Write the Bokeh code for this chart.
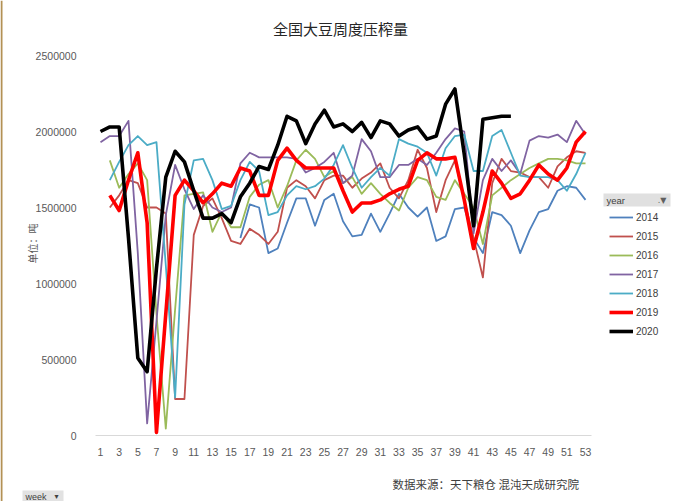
import math
from bokeh.plotting import figure
from bokeh.models import (Range1d, FixedTicker, BasicTickFormatter, Legend, LegendItem,
                          Label, ColumnDataSource, BoxAnnotation)
from bokeh.embed import file_html
from bokeh.resources import INLINE

nan = float("nan")

# ---------------- data (million tonnes) ----------------
weeks = list(range(1, 54))
x_tick_weeks = list(range(1, 54, 2))
y_ticks = [0, 500000, 1000000, 1500000, 2000000, 2500000]
years = ["2014", "2015", "2016", "2017", "2018", "2019", "2020"]

v2014 = [nan] * 15 + [
    1.30, 1.52, 1.50, 1.20, 1.23, 1.40, 1.56, 1.56, 1.38, 1.55,
    1.59, 1.41, 1.31, 1.32, 1.46, 1.34, 1.46, 1.59, 1.50, 1.44,
    1.50, 1.28, 1.31, 1.49, 1.50, 1.30, 1.20, 1.47, 1.45, 1.38,
    1.20, 1.35, 1.47, 1.49, 1.61, 1.64, 1.63, 1.55]
v2015 = [nan,
    1.50, 1.58, 1.68, 1.66, 1.50, 1.50, 1.46, 0.24, 0.24, 1.32,
    1.51, 1.56, 1.43, 1.28, 1.26, 1.36, 1.32, 1.26, 1.34, 1.63,
    1.68, 1.64, 1.56, 1.68, 1.71, 1.71, 1.63, 1.69, 1.73, 1.79,
    1.63, 1.56, 1.68, 1.88, 1.76, 1.47, 1.68, 1.81, 1.55, 1.30,
    1.04, 1.66, 1.82, 1.74, 1.73, 1.70, 1.70, 1.63, 1.77, 1.83,
    1.87, 1.86]
v2016 = [nan,
    1.81, 1.63, 1.72, 1.79, 1.68, 0.80, 0.045, 0.83, 1.58, 1.59,
    1.60, 1.34, 1.47, 1.37, 1.37, 1.57, 1.65, 1.68, 1.50, 1.64,
    1.81, 1.88, 1.82, 1.70, 1.74, 1.66, 1.70, 1.59, 1.66, 1.59,
    1.53, 1.48, 1.63, 1.70, 1.68, 1.57, 1.55, 1.68, 1.59, 1.50,
    1.26, 1.58, 1.63, 1.68, 1.72, 1.76, 1.79, 1.82, 1.82, 1.81,
    1.79, 1.79]
v2017 = [
    1.93, 1.97, 1.97, 2.07, 1.20, 0.08, 0.75, 1.45, 1.78, 1.62,
    1.49, 1.58, 1.50, 1.47, 1.50, 1.79, 1.86, 1.83, 1.83, 1.83,
    1.83, 1.82, 1.73, 1.76, 1.80, 1.86, 1.66, 1.71, 1.95, 1.87,
    1.70, 1.70, 1.78, 1.78, 1.82, 1.78, 1.86, 1.95, 2.02, 2.00,
    1.33, 1.68, 1.82, 1.74, 1.81, 1.72, 1.94, 1.97, 1.96, 1.98,
    1.93, 2.07, 1.98]
v2018 = [nan,
    1.68, 1.80, 1.91, 1.97, 1.91, 1.93, 1.12, 0.25, 1.52, 1.81,
    1.82, 1.68, 1.49, 1.51, 1.68, 1.80, 1.74, 1.45, 1.47, 1.58,
    1.64, 1.62, 1.64, 1.69, 1.78, 1.91, 1.76, 1.63, 1.70, 1.76,
    1.71, 1.95, 1.92, 1.90, 1.86, 1.71, 1.89, 1.97, 1.98, 1.74,
    1.74, 1.97, 2.01, 1.86, 1.71, 1.70, 1.70, 1.70, 1.68, 1.61,
    1.72, 1.86]
v2019 = [nan,
    1.58, 1.48, 1.68, 1.86, 1.40, 0.02, 0.80, 1.58, 1.68, 1.61,
    1.53, 1.59, 1.66, 1.64, 1.76, 1.74, 1.58, 1.58, 1.81, 1.89,
    1.81, 1.76, 1.76, 1.76, 1.76, 1.61, 1.47, 1.53, 1.53, 1.55,
    1.59, 1.62, 1.64, 1.81, 1.86, 1.82, 1.82, 1.83, 1.55, 1.23,
    1.47, 1.74, 1.66, 1.56, 1.59, 1.68, 1.78, 1.72, 1.68, 1.76,
    1.93, 2.00]
v2020 = [
    2.00, 2.03, 2.03, 1.30, 0.51, 0.42, 1.10, 1.70, 1.87, 1.80,
    1.61, 1.43, 1.43, 1.46, 1.40, 1.57, 1.66, 1.77, 1.75, 1.91,
    2.10, 2.07, 1.92, 2.05, 2.14, 2.03, 2.05, 2.00, 2.06, 1.96,
    2.07, 2.05, 1.97, 2.01, 2.03, 1.95, 1.97, 2.18, 2.28, 1.85,
    1.38, 2.08, 2.09, 2.10, 2.10] + [nan] * 8

series = [v2014, v2015, v2016, v2017, v2018, v2019, v2020]
colors = ["#4F81BD", "#C0504D", "#9BBB59", "#8064A2", "#4BACC6", "#FF0000", "#000000"]
widths = [1.8, 1.8, 1.8, 1.8, 1.8, 3.6, 3.6]

title_text = "全国大豆周度压榨量"
unit_text = "单位：吨"
source_text = "数据来源：天下粮仓 混沌天成研究院"

# ---------------- figure: the frame covers the whole canvas ----------------
W, H = 673, 501
PXW = 9.327          # pixels per week
X1_PX = 100          # pixel column of week 1
YMAX = 2500000
Y_TOP_PX = 55        # pixel row of YMAX
Y0_PX = 435          # pixel row of 0
PXV = YMAX / (Y0_PX - Y_TOP_PX)   # value per pixel

x0 = 1 - X1_PX / PXW
x1 = x0 + W / PXW
y0 = -(H - Y0_PX) * PXV
y1 = Y0_PX * PXV

p = figure(width=W, height=H, output_backend="svg", toolbar_location=None,
           x_range=Range1d(x0, x1), y_range=Range1d(y0, y1),
           min_border=0)
p.outline_line_color = None
p.grid.grid_line_color = None
p.background_fill_color = "white"
p.border_fill_color = "white"


def dx(px):
    return x0 + px / PXW


def dy(py):
    return (Y0_PX - py) * PXV


items = []
for yr, vals, c, w in zip(years, series, colors, widths):
    src = ColumnDataSource(dict(week=weeks, value=[v * 1e6 for v in vals]))
    r = p.line("week", "value", source=src, line_color=c, line_width=w,
               line_join="round")
    items.append(LegendItem(label=yr, renderers=[r]))

# axes drawn at fixed positions inside the frame
xa = p.xaxis[0]
xa.fixed_location = 0
xa.ticker = FixedTicker(ticks=x_tick_weeks)
xa.bounds = (dx(95), dx(591))
xa.axis_line_color = "#d9d9d9"
xa.axis_line_width = 1
xa.major_tick_line_color = None
xa.minor_tick_line_color = None
xa.major_label_standoff = 6
xa.major_label_text_font = "Liberation Sans"
xa.major_label_text_font_size = "10.5px"
xa.major_label_text_color = "#595959"

ya = p.yaxis[0]
ya.fixed_location = dx(91)
ya.ticker = FixedTicker(ticks=y_ticks)
ya.formatter = BasicTickFormatter(use_scientific=False)
ya.axis_line_color = None
ya.major_tick_line_color = None
ya.minor_tick_line_color = None
ya.major_label_standoff = 9
ya.major_label_text_font = "Liberation Sans"
ya.major_label_text_font_size = "10.5px"
ya.major_label_text_color = "#595959"

# left border line of the sheet
p.add_layout(BoxAnnotation(left=dx(0), right=dx(2), top=dy(0), bottom=dy(H),
                           fill_color="#b39155", fill_alpha=1, line_color=None))

# y unit label
p.add_layout(Label(x=dx(32), y=dy(243), text=unit_text, angle=math.pi / 2,
                   text_align="center", text_baseline="middle",
                   text_font="Noto Sans CJK SC", text_font_size="10px",
                   text_color="#595959"))

# legend (right of the data)
legend = Legend(items=items, location=(609, H - 339), padding=0, margin=0,
                spacing=3, glyph_width=24, glyph_height=16, label_height=16,
                label_standoff=3, label_text_font="Liberation Sans",
                label_text_font_size="10px", label_text_color="#404040",
                border_line_color=None, background_fill_alpha=0)
p.add_layout(legend)

# legend header box
p.add_layout(BoxAnnotation(left=dx(603), right=dx(670), top=dy(193), bottom=dy(206),
                           fill_color="#e0e0e0", fill_alpha=1, line_color=None))
p.add_layout(Label(x=dx(606), y=dy(199.5), text="year", text_align="left",
                   text_baseline="middle", text_font="Liberation Sans",
                   text_font_size="9.5px", text_color="#404040"))
p.add_layout(Label(x=dx(666), y=dy(199.5), text=".▼", text_align="right",
                   text_baseline="middle", text_font="DejaVu Sans",
                   text_font_size="8px", text_color="#606060"))

# title
p.add_layout(Label(x=dx(340), y=dy(28), text=title_text, text_align="center",
                   text_baseline="middle", text_font="Noto Sans CJK SC",
                   text_font_size="15px", text_color="#262626"))

# footer source
p.add_layout(Label(x=dx(392), y=dy(483), text=source_text, text_align="left",
                   text_baseline="middle", text_font="Noto Sans CJK SC",
                   text_font_size="11.5px", text_color="#404040"))

# week button
p.add_layout(BoxAnnotation(left=dx(22), right=dx(63), top=dy(490), bottom=dy(H),
                           fill_color="#e2e2e2", fill_alpha=1, line_color=None))
p.add_layout(Label(x=dx(25), y=dy(496), text="week", text_align="left",
                   text_baseline="middle", text_font="Liberation Sans",
                   text_font_size="9px", text_color="#404040"))
p.add_layout(Label(x=dx(58), y=dy(496), text="▾", text_align="right",
                   text_baseline="middle", text_font="DejaVu Sans",
                   text_font_size="8px", text_color="#404040"))

open("out.html", "w").write(file_html(p, INLINE))
